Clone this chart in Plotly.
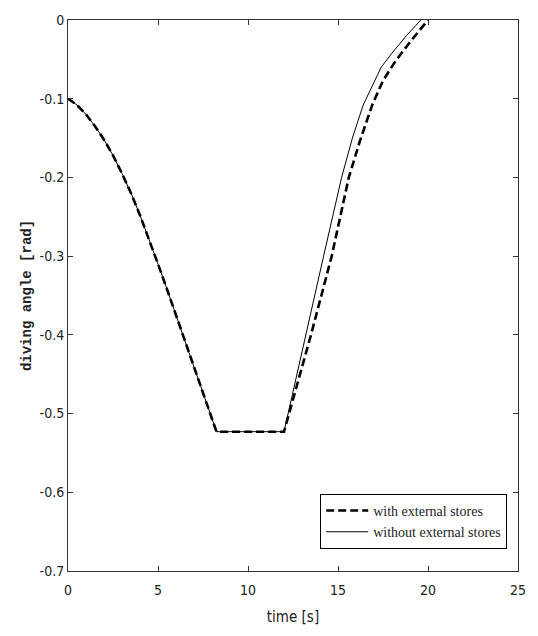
import plotly.graph_objects as go

# time [s] and diving angle [rad]
t_with = [0, 0.5, 1.0, 1.5, 2.0, 2.5, 3.0, 3.5, 4.0, 4.5, 5.0, 5.5, 6.0, 6.5, 7.0, 7.5, 8.0, 8.25,
          12.0, 13.5, 14.65, 15.6, 16.2, 16.9, 17.5, 18.2, 19.0, 20.0]
y_with = [-0.1, -0.108, -0.12, -0.135, -0.152, -0.172, -0.195, -0.22, -0.248, -0.278, -0.31, -0.342,
          -0.375, -0.41, -0.442, -0.475, -0.508, -0.523,
          -0.523, -0.4, -0.3, -0.2, -0.155, -0.108, -0.077, -0.052, -0.028, 0.0]

t_without = [0, 0.5, 1.0, 1.5, 2.0, 2.5, 3.0, 3.5, 4.0, 4.5, 5.0, 5.5, 6.0, 6.5, 7.0, 7.5, 8.0, 8.25,
             12.0, 13.1, 14.2, 15.2, 15.8, 16.4, 17.0, 17.4, 18.0, 18.8, 19.6]
y_without = [-0.1, -0.108, -0.12, -0.135, -0.152, -0.172, -0.195, -0.22, -0.248, -0.278, -0.31, -0.342,
             -0.375, -0.41, -0.442, -0.475, -0.508, -0.523,
             -0.523, -0.41, -0.3, -0.2, -0.15, -0.108, -0.078, -0.06, -0.042, -0.02, 0.0]

x_ticks = [0, 5, 10, 15, 20, 25]
y_ticks = [0, -0.1, -0.2, -0.3, -0.4, -0.5, -0.6, -0.7]
y_tick_labels = ["0", "-0.1", "-0.2", "-0.3", "-0.4", "-0.5", "-0.6", "-0.7"]

tick_font = dict(family="Liberation Sans Narrow, DejaVu Sans Condensed, Arial Narrow, sans-serif",
                 size=14, color="#222")

fig = go.Figure()
fig.add_trace(go.Scatter(x=t_with, y=y_with, mode="lines", name="with external stores",
                         line=dict(color="black", width=2.6, dash="8px,4px")))
fig.add_trace(go.Scatter(x=t_without, y=y_without, mode="lines", name="without external stores",
                         line=dict(color="black", width=1)))

fig.update_layout(
    width=538, height=636,
    margin=dict(l=68, r=18, t=14, b=65),
    paper_bgcolor="white", plot_bgcolor="white",
    showlegend=True,
    legend=dict(x=0.976, y=0.04, xanchor="right", yanchor="bottom",
                bordercolor="black", borderwidth=1, bgcolor="white",
                font=dict(family="Liberation Serif, DejaVu Serif, serif", size=14, color="#222"),
                tracegroupgap=0, itemwidth=42),
    xaxis=dict(range=[0, 25], tickvals=x_ticks, ticks="inside", ticklen=5, tickcolor="#333",
               showline=True, linecolor="#333", linewidth=1, mirror="ticks", showgrid=False,
               zeroline=False, tickfont=tick_font, ticklabelstandoff=6,
               title=dict(text="time [s]", standoff=14,
                          font=dict(family="Liberation Sans Narrow, DejaVu Sans Condensed, sans-serif",
                                    size=15, color="#222"))),
    yaxis=dict(range=[-0.7, 0], tickvals=y_ticks, ticktext=y_tick_labels, ticks="inside", ticklen=5,
               tickcolor="#333", showline=True, linecolor="#333", linewidth=1, mirror="ticks",
               showgrid=False, zeroline=False, tickfont=tick_font,
               title=dict(text="<b>diving angle [rad]</b>", standoff=4,
                          font=dict(family="Liberation Mono, DejaVu Sans Mono, monospace",
                                    size=14, color="#222"))),
)

fig.write_html("out.html")
